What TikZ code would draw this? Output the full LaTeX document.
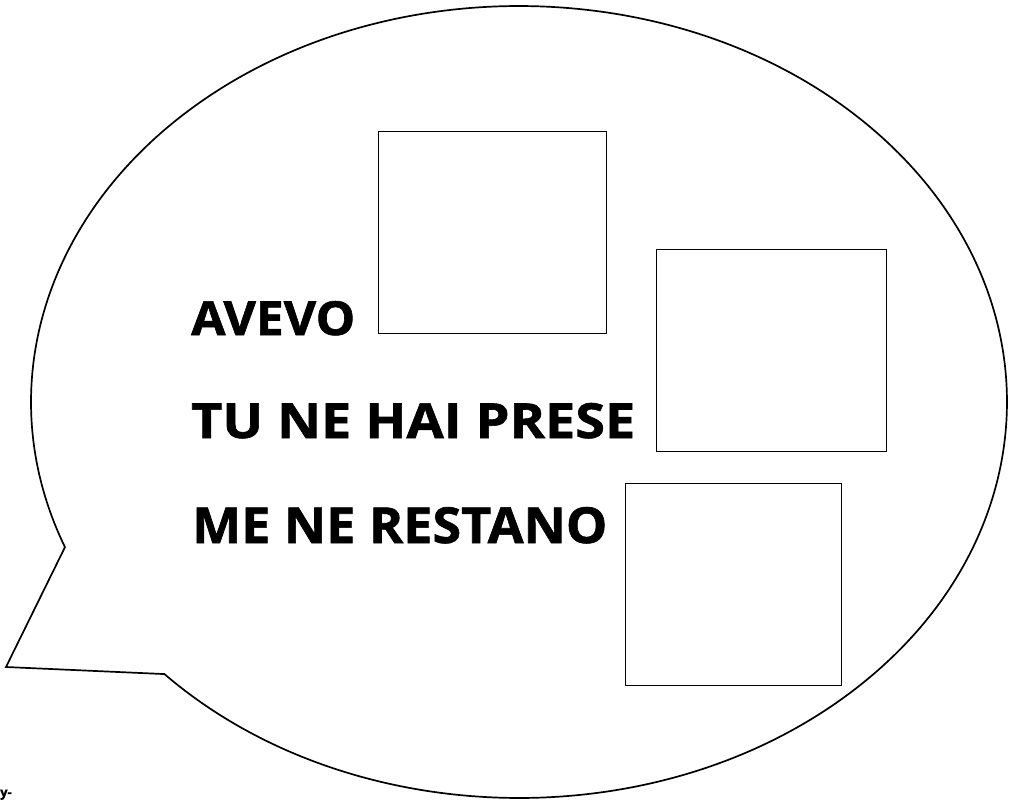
\documentclass[tikz,border=0pt]{standalone}
\usepackage{fontspec}
\setmainfont{Open Sans}[BoldFeatures={FakeBold=1.2}]
\usepackage{graphicx}
\usetikzlibrary{calc}
\begin{document}
\begin{tikzpicture}[x=1pt,y=-1pt,
  bubble/.style={draw=black,line width=1.7pt,line join=miter},
  answerbox/.style={draw=black,line width=1.4pt,fill=white},
  label/.style={inner sep=0pt,anchor=base west,font=\bfseries}]
\useasboundingbox (0,0) rectangle (1012,800);
\fill[white] (0,0) rectangle (1012,800);
% speech bubble
\coordinate (tip) at (6,667);
\draw[bubble] ($(519,402)+(158.5:488 and 396)$) coordinate (tA) -- (tip)
  -- ($(519,402)+(136.6:488 and 396)$) coordinate (tB)
  arc[start angle=136.6,end angle=-201.5,x radius=488,y radius=396] -- cycle;
% boxes
\node[answerbox,minimum width=228pt,minimum height=202pt,inner sep=0pt,anchor=north west] (b1) at (378,131) {};
\node[answerbox,minimum width=230pt,minimum height=202pt,inner sep=0pt,anchor=north west] (b2) at (656,249) {};
\node[answerbox,minimum width=216pt,minimum height=202pt,inner sep=0pt,anchor=north west] (b3) at (625,483) {};
% texts
\node[label] (t1) at (191,335) {\resizebox{164pt}{34pt}{\bfseries AVEVO}};
\node[label] (t2) at (191,438) {\resizebox{444pt}{35pt}{\bfseries TU NE HAI PRESE}};
\node[label] (t3) at (192,543) {\resizebox{415pt}{36pt}{\bfseries ME NE RESTANO}};
\node[inner sep=0pt,anchor=south west,font=\bfseries\fontsize{13}{13}\selectfont] (frag) at (0,800) {y-};
\end{tikzpicture}
\end{document}
